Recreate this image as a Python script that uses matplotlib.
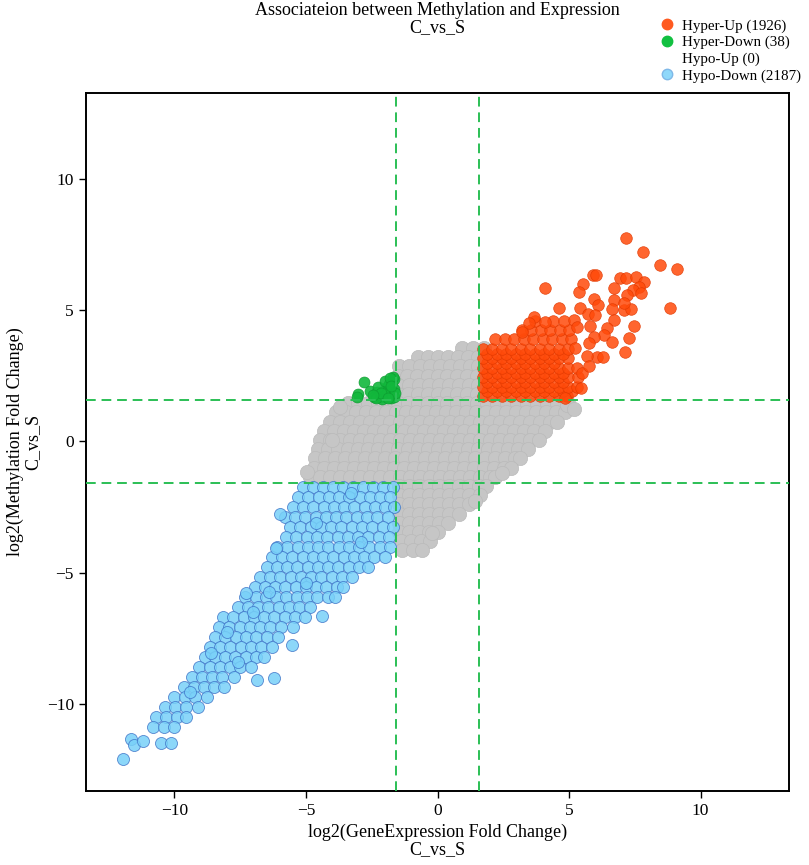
import numpy as np
import matplotlib
matplotlib.use("Agg")
import matplotlib.pyplot as plt
from matplotlib.lines import Line2D

plt.rcParams['font.family'] = ['Liberation Serif', 'DejaVu Serif']

# ── data (dense clouds estimated row by row) ──
# each row: (log2 methylation FC, [log2 expression FC, ...])
gray_rows = [
    (3.55, [0.95, 1.35, 1.75]),
    (3.2, [-0.75, -0.37, 0.02, 0.4, 0.78, 1.15, 1.55]),
    (2.85, [-1.45, -1.07, -0.68, -0.3, 0.08, 0.47, 0.85, 1.23, 1.55]),
    (2.5, [-1.52, -1.15, -0.77, -0.38, 0.0, 0.38, 0.76, 1.14, 1.52]),
    (2.15, [-1.5, -1.1, -0.72, -0.33, 0.05, 0.43, 0.82, 1.2, 1.55]),
    (1.8, [-1.52, -1.14, -0.76, -0.38, 0.0, 0.38, 0.76, 1.14, 1.52]),
    (1.45, [-3.42, -3.04, -2.66, -2.28, -1.9, -1.52, -1.14, -0.76, -0.38, 0.0, 0.38,
            0.76, 1.14, 1.52, 1.9, 2.28, 2.66, 3.04, 3.42, 3.8, 4.18, 4.56, 4.95]),
    (1.1, [-3.85, -3.47, -3.09, -2.71, -2.33, -1.95, -1.57, -1.19, -0.81, -0.43, -0.05,
           0.33, 0.71, 1.09, 1.47, 1.85, 2.23, 2.61, 2.99, 3.37, 3.75, 4.13, 4.51, 4.85]),
    (0.75, [-4.1, -3.72, -3.34, -2.96, -2.58, -2.2, -1.82, -1.44, -1.06, -0.68, -0.3,
            0.08, 0.46, 0.84, 1.22, 1.6, 1.98, 2.36, 2.74, 3.12, 3.5, 3.88, 4.26, 4.55]),
    (0.4, [-4.3, -3.92, -3.54, -3.16, -2.78, -2.4, -2.02, -1.64, -1.26, -0.88, -0.5,
           -0.12, 0.26, 0.64, 1.02, 1.4, 1.78, 2.16, 2.54, 2.92, 3.3, 3.68, 4.1]),
    (0.05, [-4.45, -4.07, -3.69, -3.31, -2.93, -2.55, -2.17, -1.79, -1.41, -1.03, -0.65,
            -0.27, 0.11, 0.49, 0.87, 1.25, 1.63, 2.01, 2.39, 2.77, 3.15, 3.5, 3.85]),
    (-0.3, [-4.55, -4.17, -3.79, -3.41, -3.03, -2.65, -2.27, -1.89, -1.51, -1.13, -0.75,
            -0.37, 0.01, 0.39, 0.77, 1.15, 1.53, 1.91, 2.29, 2.67, 3.05, 3.45]),
    (-0.65, [-4.65, -4.27, -3.89, -3.51, -3.13, -2.75, -2.37, -1.99, -1.61, -1.23, -0.85,
             -0.47, -0.09, 0.29, 0.67, 1.05, 1.43, 1.81, 2.19, 2.57, 2.95, 3.15]),
    (-1.0, [-4.7, -4.32, -3.94, -3.56, -3.18, -2.8, -2.42, -2.04, -1.66, -1.28, -0.9,
            -0.52, -0.14, 0.24, 0.62, 1.0, 1.38, 1.76, 2.14, 2.52, 2.8]),
    (-1.35, [-4.85, -4.47, -4.09, -3.71, -3.33, -2.95, -2.57, -2.19, -1.81, -1.43, -1.05,
             -0.67, -0.29, 0.09, 0.47, 0.85, 1.23, 1.61, 1.99, 2.2]),
    (-1.7, [-1.45, -1.07, -0.69, -0.31, 0.07, 0.45, 0.83, 1.21, 1.59, 1.85]),
    (-2.05, [-1.45, -1.07, -0.69, -0.31, 0.07, 0.45, 0.83, 1.21, 1.6]),
    (-2.4, [-1.45, -1.07, -0.69, -0.31, 0.07, 0.45, 0.83, 1.2]),
    (-2.75, [-1.45, -1.07, -0.69, -0.31, 0.07, 0.45, 0.8]),
    (-3.1, [-1.45, -1.07, -0.69, -0.31, 0.07, 0.4]),
    (-3.45, [-1.45, -1.07, -0.69, -0.31, 0.0]),
    (-3.8, [-1.4, -1.02, -0.64, -0.3]),
    (-4.15, [-1.35, -0.95, -0.6]),
]
gray_extra_x = [4.93, 1.44, -0.2, -4.0, 5.2, -3.7, -4.95, 2.45]
gray_extra_y = [1.39, -2.29, -3.5, 0.06, 1.25, 1.3, -1.15, -1.2]

orange_rows = [
    (1.72, [1.72, 2.08, 2.44, 2.8, 3.16, 3.52, 3.88, 4.24, 4.6, 4.92]),
    (1.9, [1.9, 2.26, 2.62, 2.98, 3.34, 3.7, 4.06, 4.42, 4.78, 5.1]),
    (2.08, [1.72, 2.08, 2.44, 2.8, 3.16, 3.52, 3.88, 4.24, 4.6, 4.96, 5.3]),
    (2.26, [1.9, 2.26, 2.62, 2.98, 3.34, 3.7, 4.06, 4.42, 4.78]),
    (2.44, [1.72, 2.08, 2.44, 2.8, 3.16, 3.52, 3.88, 4.24, 4.6, 4.96, 5.35]),
    (2.62, [1.9, 2.26, 2.62, 2.98, 3.34, 3.7, 4.06, 4.42, 4.78]),
    (2.8, [1.72, 2.08, 2.44, 2.8, 3.16, 3.52, 3.88, 4.24, 4.6, 4.96, 5.3]),
    (2.98, [1.9, 2.26, 2.62, 2.98, 3.34, 3.7, 4.06, 4.42]),
    (3.16, [1.72, 2.08, 2.44, 2.8, 3.16, 3.52, 3.88, 4.24, 4.6, 4.95]),
    (3.34, [1.9, 2.26, 2.62, 2.98, 3.34, 3.7, 4.06, 4.42, 4.78]),
    (3.52, [1.72, 2.08, 2.44, 2.8, 3.16, 3.52, 3.88, 4.24, 4.6, 4.96]),
    (3.88, [2.2, 2.56, 2.92, 3.28, 3.64, 4.0, 4.36, 4.72, 5.08]),
    (4.24, [3.2, 3.56, 3.92, 4.28, 4.64, 5.0]),
    (4.6, [3.7, 4.4, 4.8]),
]
orange_extra_x = [7.17, 7.81, 8.47, 9.10, 8.82, 4.10, 5.91, 6.04, 5.53, 5.39,
                  6.93, 7.15, 7.55, 7.84, 7.67, 7.43, 7.75, 7.20, 6.72, 6.72,
                  5.94, 6.09, 6.63, 7.08, 7.37, 7.08, 4.63, 5.41, 5.72, 6.00,
                  6.70, 6.44, 7.46, 6.32, 6.63, 7.27, 7.14, 6.06, 6.29, 5.68,
                  5.49, 5.46, 4.86, 3.66, 3.47, 3.22, 4.10, 5.17, 5.30, 5.81,
                  5.94, 5.75, 5.24, 5.75]
orange_extra_y = [7.75, 7.22, 6.71, 6.58, 5.06, 5.85, 6.33, 6.33, 5.99, 5.70,
                  6.20, 6.20, 6.24, 6.08, 5.89, 5.76, 5.63, 5.57, 5.85, 5.38,
                  5.42, 5.19, 5.03, 5.00, 5.03, 5.25, 5.06, 5.06, 4.83, 4.81,
                  4.62, 4.30, 4.39, 4.05, 3.80, 3.92, 3.42, 3.20, 3.20, 3.25,
                  2.59, 2.02, 1.64, 4.72, 4.49, 4.18, 4.56, 4.62, 4.37, 4.39,
                  3.98, 3.73, 3.54, 2.85]

green_x = [-2.79, -3.02, -3.07, -2.56, -2.29, -2.17, -1.91, -1.72, -1.65, -1.65,
           -1.65, -1.80, -1.95, -2.05, -2.40, -2.25, -1.85, -2.00, -1.75, -2.10,
           -2.35, -1.70, -1.82, -2.15, -1.62, -1.90, -2.45, -1.78]
green_y = [2.27, 1.79, 1.68, 1.92, 1.89, 1.70, 2.08, 2.27, 2.37, 2.00,
           1.70, 1.82, 1.70, 1.90, 1.68, 2.05, 2.20, 2.30, 1.64, 1.62,
           1.65, 2.45, 2.40, 1.85, 1.85, 1.65, 1.78, 2.10]

blue_rows = [
    (-1.75, [-5.1, -4.72, -4.34, -3.96, -3.58, -3.2, -2.82, -2.44, -2.06, -1.68]),
    (-2.13, [-5.3, -4.91, -4.52, -4.13, -3.74, -3.35, -2.96, -2.57, -2.18, -1.79]),
    (-2.51, [-5.5, -5.11, -4.72, -4.33, -3.94, -3.55, -3.16, -2.77, -2.38, -1.99, -1.65]),
    (-2.89, [-5.8, -5.41, -5.02, -4.63, -4.24, -3.85, -3.46, -3.07, -2.68, -2.29, -1.9]),
    (-3.27, [-5.6, -5.21, -4.82, -4.43, -4.04, -3.65, -3.26, -2.87, -2.48, -2.09, -1.7]),
    (-3.65, [-5.75, -5.36, -4.97, -4.58, -4.19, -3.8, -3.41, -3.02, -2.63, -2.24, -1.85]),
    (-4.03, [-6.1, -5.71, -5.32, -4.93, -4.54, -4.15, -3.76, -3.37, -2.98, -2.59, -2.2, -1.8]),
    (-4.41, [-6.3, -5.91, -5.52, -5.13, -4.74, -4.35, -3.96, -3.57, -3.18, -2.79, -2.4, -2.0]),
    (-4.79, [-6.5, -6.11, -5.72, -5.33, -4.94, -4.55, -4.16, -3.77, -3.38, -2.99, -2.65]),
    (-5.17, [-6.75, -6.36, -5.97, -5.58, -5.19, -4.8, -4.41, -4.02, -3.63, -3.24]),
    (-5.55, [-6.95, -6.56, -6.17, -5.78, -5.39, -5.0, -4.61, -4.22, -3.83, -3.6]),
    (-5.93, [-7.3, -6.91, -6.52, -6.13, -5.74, -5.35, -4.96, -4.57, -4.18, -3.9]),
    (-6.31, [-7.6, -7.21, -6.82, -6.43, -6.04, -5.65, -5.26, -4.85]),
    (-6.69, [-8.15, -7.76, -7.37, -6.98, -6.59, -6.2, -5.81, -5.42, -5.05]),
    (-7.07, [-8.3, -7.91, -7.52, -7.13, -6.74, -6.35, -5.96, -5.5]),
    (-7.45, [-8.45, -8.06, -7.67, -7.28, -6.89, -6.5, -6.05]),
    (-7.83, [-8.65, -8.26, -7.87, -7.48, -7.09, -6.7, -6.3]),
    (-8.21, [-8.85, -8.46, -8.07, -7.68, -7.29, -6.9, -6.6]),
    (-8.59, [-9.05, -8.66, -8.27, -7.88, -7.49, -7.1]),
    (-8.97, [-9.35, -8.96, -8.57, -8.18, -7.75]),
    (-9.35, [-9.65, -9.26, -8.87, -8.48, -8.1]),
    (-9.73, [-10.0, -9.61, -9.22, -8.75]),
    (-10.11, [-10.35, -9.96, -9.57, -9.1]),
    (-10.49, [-10.7, -10.31, -9.92, -9.55]),
    (-10.87, [-10.8, -10.4, -10.0]),
]
blue_extra_x = [-11.66, -11.55, -11.18, -10.50, -10.14, -11.97, -4.39, -5.52,
                -6.22, -6.85, -7.29, -6.0, -6.15, -3.3, -4.6, -2.9, -5.0,
                -7.0, -8.0, -8.6, -9.4, -6.4, -7.6]
blue_extra_y = [-11.35, -11.56, -11.41, -11.47, -11.47, -12.08, -6.66, -7.74,
                -9.00, -9.07, -5.77, -2.75, -4.05, -1.95, -3.1, -3.85, -5.4,
                -6.5, -7.25, -8.05, -9.55, -5.75, -8.4]

cutoff = np.log2(3)
legend_labels = ['Hyper-Up (1926)', 'Hyper-Down (38)', 'Hypo-Up (0)', 'Hypo-Down (2187)']


def expand(rows, ex, ey):
    xs = [x for y, row in rows for x in row] + list(ex)
    ys = [y for y, row in rows for x in row] + list(ey)
    return np.array(xs), np.array(ys)


gx, gy = expand(gray_rows, gray_extra_x, gray_extra_y)
ox, oy = expand(orange_rows, orange_extra_x, orange_extra_y)
bx, by = expand(blue_rows, blue_extra_x, blue_extra_y)

W, H = 809, 865
fig = plt.figure(figsize=(W / 100, H / 100), dpi=100)
ax = fig.add_axes([86.3 / W, 1 - 790.7 / H, (788.7 - 86.3) / W, (790.7 - 93.3) / H])

ax.scatter(gx, gy, s=105, color='#c6c6c6', edgecolors='#bababa', linewidths=0.5, zorder=2)
ax.scatter(ox, oy, s=70, color='#ff4a0a', alpha=0.85, edgecolors='#e03800',
           linewidths=0.5, zorder=3)
ax.scatter(green_x, green_y, s=62, color='#12b83c', alpha=0.9, edgecolors='#0c9a30',
           linewidths=0.5, zorder=3)
ax.scatter(bx, by, s=75, color='#78d0f8', alpha=0.85, edgecolors='#3f74c8',
           linewidths=0.6, zorder=3)

for v in (-cutoff, cutoff):
    ax.axvline(v, color='#2bbf55', lw=1.4, ls=(0, (5, 3)), zorder=4)
    ax.axhline(v, color='#2bbf55', lw=1.4, ls=(0, (5, 3)), zorder=4)

ax.set_xlim(-13.35, 13.35)
ax.set_ylim(-13.3, 13.25)
ax.set_xticks([-10, -5, 0, 5, 10])
ax.set_yticks([-10, -5, 0, 5, 10])
ax.tick_params(direction='out', length=5, width=1, labelsize=12.5, pad=4,
               top=False, right=False)
for sp in ax.spines.values():
    sp.set_linewidth(1.4)

ax.set_xlabel('log2(GeneExpression Fold Change)\nC_vs_S', fontsize=13, labelpad=3,
              linespacing=1.0)
ax.set_ylabel('log2(Methylation Fold Change)\nC_vs_S', fontsize=13, labelpad=4,
              linespacing=1.0)

fig.text(437.5 / W, 1 - 2 / H, 'Associateion between Methylation and Expression\nC_vs_S',
         ha='center', va='top', fontsize=13, linespacing=1.0)

handles = [
    Line2D([], [], ls='none', marker='o', ms=7.5, mfc='#ff5a20', mec='#ff5a20'),
    Line2D([], [], ls='none', marker='o', ms=7.5, mfc='#12c040', mec='#12c040'),
    Line2D([], [], ls='none', marker='o', ms=7.5, mfc='none', mec='none'),
    Line2D([], [], ls='none', marker='o', ms=7.5, mfc='#8fd8fa', mec='#7fb8e8'),
]
fig.legend(handles, legend_labels, loc='upper right',
           bbox_to_anchor=(1 - 2 / W, 1 - 13 / H),
           frameon=False, fontsize=10.8, handlelength=1.0, handletextpad=0.5,
           labelspacing=0.2, borderaxespad=0.0)

fig.savefig('out.png', dpi=100)
